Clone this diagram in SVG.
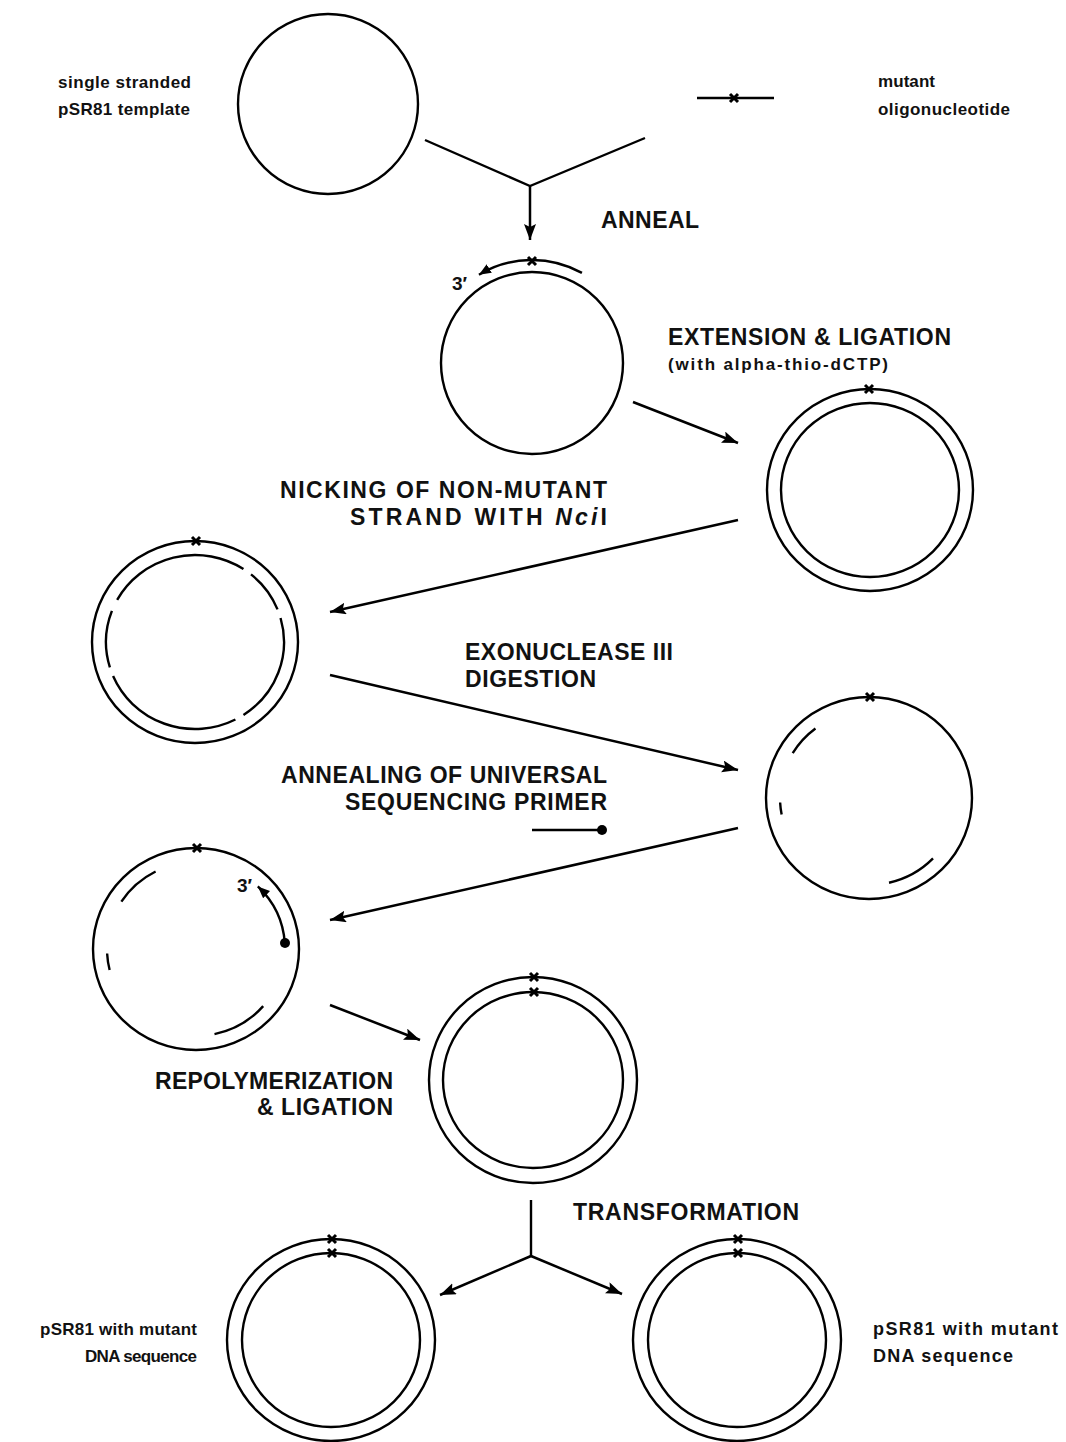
<svg xmlns="http://www.w3.org/2000/svg" width="1066" height="1442" viewBox="0 0 1066 1442">
<defs>
<marker id="ah" markerUnits="userSpaceOnUse" markerWidth="18" markerHeight="13" refX="16" refY="6" orient="auto">
<path d="M0,0 L16,6 L0,12 L3,6 z" fill="#000"/>
</marker>
<marker id="ahs" markerUnits="userSpaceOnUse" markerWidth="13" markerHeight="11" refX="12" refY="5" orient="auto">
<path d="M0,0 L12,5 L0,10 z" fill="#000"/>
</marker>
</defs>
<style>
.s{fill:none;stroke:#000;stroke-width:2.4}
.c{fill:none;stroke:#000;stroke-width:2.4}
.x{stroke:#000;stroke-width:3;fill:none}
.a{fill:none;stroke:#000;stroke-width:2.5;marker-end:url(#ah)}
.L{font-family:"Liberation Sans",Arial,sans-serif;font-weight:bold;font-size:23px;fill:#111}
.m{font-family:"Liberation Sans",Arial,sans-serif;font-weight:bold;font-size:17px;fill:#111}
</style>
<rect width="1066" height="1442" fill="#fff"/>

<g id="connectors">
<polyline class="s" points="425,140 530,186 645,138"/>
<line class="a" x1="530" y1="186" x2="530" y2="240"/>
<line class="a" x1="633" y1="402" x2="738" y2="443"/>
<line class="a" x1="738" y1="520" x2="330" y2="612"/>
<line class="a" x1="330" y1="675" x2="738" y2="770"/>
<line class="a" x1="738" y1="828" x2="330" y2="920"/>
<line class="a" x1="330" y1="1005" x2="420" y2="1040"/>
<line class="s" x1="531" y1="1200" x2="531" y2="1256"/>
<line class="a" x1="531" y1="1256" x2="440" y2="1295"/>
<line class="a" x1="531" y1="1256" x2="622" y2="1294"/>
</g>

<g id="template">
<ellipse class="c" cx="328" cy="104" rx="90" ry="90"/>
<text class="m" x="58" y="88" textLength="133">single stranded</text>
<text class="m" x="58" y="115" textLength="132">pSR81 template</text>
</g>

<g id="oligo">
<line class="s" x1="697" y1="98" x2="774" y2="98"/>
<path class="x" d="M730,94 L738,102 M738,94 L730,102"/>
<text class="m" x="878" y="87" textLength="57">mutant</text>
<text class="m" x="878" y="115" textLength="132">oligonucleotide</text>
</g>

<g id="anneal-label"><text class="L" x="601" y="228" textLength="98">ANNEAL</text></g>

<g id="annealed">
<ellipse class="c" cx="532" cy="363" rx="91" ry="91"/>
<path class="s" d="M581.94,272.92 A103,103 0 0 0 478.95,274.71" style="marker-end:url(#ahs)"/>
<path class="x" d="M528,257 L536,265 M536,257 L528,265"/>
<text class="m" x="452" y="290" style="font-size:19px">3′</text>
</g>

<g id="ext-label">
<text class="L" x="668" y="345" textLength="283">EXTENSION &amp; LIGATION</text>
<text class="m" x="668" y="370" textLength="220">(with alpha-thio-dCTP)</text>
</g>

<g id="extended">
<ellipse class="c" cx="870" cy="490" rx="103" ry="101"/>
<ellipse class="c" cx="870" cy="490" rx="89" ry="87"/>
<path class="x" d="M865,385 L873,393 M873,385 L865,393"/>
</g>

<g id="nick-label">
<text class="L" x="280" y="498" textLength="327">NICKING OF NON-MUTANT</text>
<text class="L" x="350" y="525" textLength="257">STRAND WITH <tspan font-style="italic">Nci</tspan>I</text>
</g>

<g id="nicked">
<ellipse class="c" cx="195" cy="642" rx="103" ry="101"/>
<path class="s" d="M117.16,599.82 A89,87 0 0 1 243.47,569.03 M251.01,574.39 A89,87 0 0 1 277.52,609.41 M280.55,618.02 A89,87 0 0 1 243.47,714.97 M235.41,719.52 A89,87 0 0 1 113.08,675.99 M109.89,667.44 A89,87 0 0 1 111.91,610.82"/>
<path class="x" d="M192,537 L200,545 M200,537 L192,545"/>
</g>

<g id="exo-label">
<text class="L" x="465" y="660" textLength="208">EXONUCLEASE III</text>
<text class="L" x="465" y="687" textLength="131">DIGESTION</text>
</g>

<g id="digested">
<ellipse class="c" cx="869" cy="798" rx="103" ry="101"/>
<path class="s" d="M792.71,753.19 A89,87 0 0 1 815.44,728.52 M781.64,814.60 A89,87 0 0 1 780.12,802.55 M933.02,858.44 A89,87 0 0 1 889.02,882.77"/>
<path class="x" d="M866,693 L874,701 M874,693 L866,701"/>
</g>

<g id="primer-label">
<text class="L" x="281" y="783" textLength="326">ANNEALING OF UNIVERSAL</text>
<text class="L" x="345" y="810" textLength="262">SEQUENCING PRIMER</text>
</g>

<g id="primer">
<line class="s" x1="532" y1="830" x2="599" y2="830"/>
<circle cx="602" cy="830" r="5" fill="#000"/>
</g>

<g id="primed">
<ellipse class="c" cx="196" cy="949" rx="103" ry="101"/>
<path class="s" d="M121.36,901.62 A89,87 0 0 1 155.59,871.48 M107.12,953.55 A89,87 0 0 0 109.64,970.05 M263.17,1006.08 A89,87 0 0 1 214.50,1034.09"/>
<path class="s" d="M284.79,942.93 A89,87 0 0 0 257.83,886.42" style="marker-end:url(#ahs)"/>
<circle cx="285" cy="943" r="5" fill="#000"/>
<path class="x" d="M193,844 L201,852 M201,844 L193,852"/>
<text class="m" x="237" y="892" style="font-size:19px">3′</text>
</g>

<g id="repoly-label">
<text class="L" x="155" y="1089" textLength="238">REPOLYMERIZATION</text>
<text class="L" x="257" y="1115" textLength="136">&amp; LIGATION</text>
</g>

<g id="repolymerized">
<ellipse class="c" cx="533" cy="1080" rx="104" ry="103"/>
<ellipse class="c" cx="533" cy="1080" rx="90" ry="88"/>
<path class="x" d="M530,973 L538,981 M538,973 L530,981"/>
<path class="x" d="M530,988 L538,996 M538,988 L530,996"/>
</g>

<g id="transform-label"><text class="L" x="573" y="1220" textLength="226">TRANSFORMATION</text></g>

<g id="mutant-left">
<ellipse class="c" cx="331" cy="1340" rx="104" ry="101"/>
<ellipse class="c" cx="331" cy="1340" rx="89" ry="87"/>
<path class="x" d="M328,1235 L336,1243 M336,1235 L328,1243"/>
<path class="x" d="M328,1249 L336,1257 M336,1249 L328,1257"/>
<text class="m" x="40" y="1335" textLength="157">pSR81 with mutant</text>
<text class="m" x="85" y="1362" textLength="112">DNA sequence</text>
</g>

<g id="mutant-right">
<ellipse class="c" cx="737" cy="1340" rx="104" ry="101"/>
<ellipse class="c" cx="737" cy="1340" rx="89" ry="87"/>
<path class="x" d="M734,1235 L742,1243 M742,1235 L734,1243"/>
<path class="x" d="M734,1249 L742,1257 M742,1249 L734,1257"/>
<text class="m" x="873" y="1335" textLength="185" style="font-size:18px">pSR81 with mutant</text>
<text class="m" x="873" y="1362" textLength="140" style="font-size:18px">DNA sequence</text>
</g>
</svg>
